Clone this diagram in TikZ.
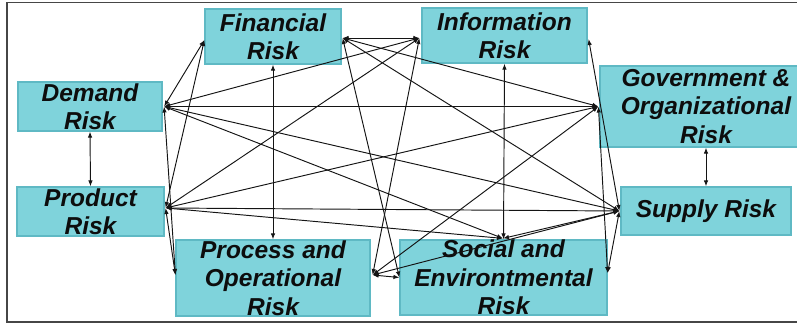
\documentclass[tikz,border=0pt]{standalone}
\usepackage{fontspec}
\setmainfont{Liberation Sans}
\usetikzlibrary{arrows.meta}
\definecolor{boxfill}{RGB}{127,211,219}
\definecolor{boxedge}{RGB}{95,185,196}
\definecolor{wire}{RGB}{20,20,20}
\definecolor{framegray}{RGB}{70,70,70}
\begin{document}
\begin{tikzpicture}[x=1pt,y=-1pt,
  riskbox/.style={draw=boxedge, line width=1.2pt, fill=boxfill, inner sep=0pt,
    align=center, text=black!95,
    font=\fontsize{24.5}{28.5}\selectfont\bfseries\itshape},
  link/.style={draw=wire, line width=0.95pt,
    {Latex[length=6pt,width=4.5pt]}-{Latex[length=6pt,width=4.5pt]}}]
\useasboundingbox (0,0) rectangle (797,324);
% open frame around the chart
\draw[framegray, line width=1.8pt] (830,2.5) -- (7,2.5) -- (7,322) -- (830,322);

% risk categories
\node[riskbox, minimum width=136pt, minimum height=55pt] (fin)  at (273,36.5)   {Financial\\Risk};
\node[riskbox, minimum width=165pt, minimum height=55pt] (info) at (504.5,35.5) {Information\\Risk};
\node[riskbox, minimum width=144pt, minimum height=49pt] (dem)  at (90,106.5)   {Demand\\Risk};
\node[riskbox, minimum width=212pt, minimum height=81pt] (gov)  at (706,106.5)  {Government \&\\Organizational\\Risk};
\node[riskbox, minimum width=147pt, minimum height=49pt] (prod) at (90.5,211.5) {Product\\Risk};
\node[riskbox, minimum width=170pt, minimum height=48pt] (sup)  at (706,211)    {Supply Risk};
\node[riskbox, minimum width=194pt, minimum height=76pt] (proc) at (273,278)    {Process and\\Operational\\Risk};
\node[riskbox, minimum width=207pt, minimum height=75pt] (soc)  at (503.5,277.5){Social and\\Environtmental\\Risk};

% connection points on the box sides
\coordinate (dh) at ([xshift=1.5pt]dem.east);
\coordinate (ph) at ([xshift=1pt,yshift=3.5pt]prod.east);
\coordinate (fr) at ([xshift=1pt,yshift=-1.5pt]fin.east);
\coordinate (fl) at ([yshift=-3.5pt]fin.west);
\coordinate (il) at ([xshift=-2pt,yshift=-2.5pt]info.west);
\coordinate (ir) at ([xshift=1pt,yshift=-3.5pt]info.east);
\coordinate (gl) at ([xshift=-1pt]gov.west);
\coordinate (sl) at ([xshift=-1pt]sup.west);
\coordinate (pr) at ([xshift=2pt,yshift=3pt]proc.east);
\coordinate (pl) at ([yshift=3pt]proc.west);
\coordinate (sw) at (soc.west);
\coordinate (se) at ([yshift=4.5pt]soc.east);
\coordinate (st) at ([xshift=-0.5pt,yshift=1pt]soc.north);

% vertical pairs
\draw[link] (dem.south) -- (prod.north);
\draw[link] (fin.south) -- (proc.north);
\draw[link] (info.south) -- (soc.north);
\draw[link] (gov.south) -- (sup.north);

% demand
\draw[link] (dh) -- (fl);
\draw[link] (dh) -- (il);
\draw[link] (dh) -- (gl);
\draw[link] (dh) -- (sl);
\draw[link] (dh) -- (pl);
\draw[link] (dh) -- (st);
% product
\draw[link] (ph) -- (fl);
\draw[link] (ph) -- (il);
\draw[link] (ph) -- (gl);
\draw[link] (ph) -- (sl);
\draw[link] (ph) -- (pl);
\draw[link] (ph) -- (st);
% financial
\draw[link] (fr) -- (il);
\draw[link] (fr) -- (gl);
\draw[link] (fr) -- (sl);
\draw[link] (fr) -- (sw);
% information
\draw[link] (il) -- (pr);
\draw[link] (ir) -- (sl);
% government
\draw[link] (gl) -- (pr);
\draw[link] (gl) -- (se);
% supply
\draw[link] (sl) -- (pr);
\draw[link] (sl) -- (se);
\draw[link] (sl) -- (st);
% process and social
\draw[link] (pr) -- (sw);
\end{tikzpicture}
\end{document}
